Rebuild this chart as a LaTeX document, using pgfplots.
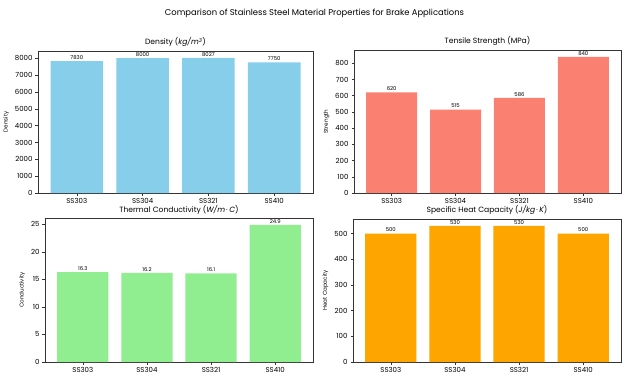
\documentclass[border=0pt]{standalone}
\usepackage{fontspec}
\setmainfont{Poppins}
\usepackage{pgfplots}
\pgfplotsset{compat=1.18}
\definecolor{skyblue}{HTML}{87CEEB}
\definecolor{salmon}{HTML}{FA8072}
\definecolor{lightgreen}{HTML}{90EE90}
\definecolor{orangec}{HTML}{FFA500}
\definecolor{spine}{HTML}{333333}
\pgfplotsset{
  panel/.style={
    scale only axis,
    ybar, bar width=0.8,
    xmin=-0.59, xmax=3.59, ymin=0,
    xtick={0,1,2,3},
    xticklabels={SS303,SS304,SS321,SS410},
    axis line style={spine, line width=0.6pt},
    tick align=outside,
    tick style={spine, line width=0.5pt},
    major tick length=2.5pt,
    xtick pos=bottom, ytick pos=left,
    /pgf/number format/assume math mode=true,
    /pgf/number format/1000 sep={},
    tick label style={font=\fontsize{7}{8}\selectfont},
    yticklabel style={xshift=0.5pt},
    title style={font=\fontsize{7.6}{8}\selectfont, yshift=-5.5pt},
    ylabel style={font=\fontsize{5.6}{6}\selectfont, yshift=-1pt},
    nodes near coords,
    every node near coord/.append style={font=\fontsize{5.3}{6}\selectfont, yshift=-2pt},
    xticklabel style={yshift=1pt},
  }
}
\begin{document}
\begin{tikzpicture}
\useasboundingbox (0pt,0pt) rectangle (629pt,389pt);
\node[font=\fontsize{8.4}{9}\selectfont] at (314.5pt,376pt) {Comparison of Stainless Steel Material Properties for Brake Applications};
% Density
\begin{axis}[panel, at={(38pt,196pt)}, anchor=south west, width=275pt, height=142pt,
  ymax=8428.35, ytick={0,1000,2000,3000,4000,5000,6000,7000,8000},
  title={Density ({\itshape kg/m\textsuperscript{3}})}, ylabel={Density},
  every node near coord/.append style={/pgf/number format/fixed, /pgf/number format/1000 sep={}}]
\addplot[fill=skyblue, draw=none] coordinates {(0,7830) (1,8000) (2,8027) (3,7750)};
\end{axis}
% Tensile
\begin{axis}[panel, at={(354pt,196pt)}, anchor=south west, width=267pt, height=143pt,
  ymax=882, ytick={0,100,200,300,400,500,600,700,800},
  title={Tensile Strength (MPa)}, ylabel={Strength}]
\addplot[fill=salmon, draw=none] coordinates {(0,620) (1,515) (2,586) (3,840)};
\end{axis}
% Conductivity
\begin{axis}[panel, at={(45pt,27pt)}, anchor=south west, width=268pt, height=144pt,
  ymax=26.145, ytick={0,5,10,15,20,25},
  title={Thermal Conductivity ({\itshape W/m\,·\,C})}, ylabel={Conductivity},
  every node near coord/.append style={/pgf/number format/fixed, /pgf/number format/precision=1}]
\addplot[fill=lightgreen, draw=none] coordinates {(0,16.3) (1,16.2) (2,16.1) (3,24.9)};
\end{axis}
% Heat capacity
\begin{axis}[panel, at={(353pt,27pt)}, anchor=south west, width=268pt, height=143pt,
  ymax=556.5, ytick={0,100,200,300,400,500},
  title={Specific Heat Capacity ({\itshape J/kg\,·\,K})}, ylabel={Heat Capacity}]
\addplot[fill=orangec, draw=none] coordinates {(0,500) (1,530) (2,530) (3,500)};
\end{axis}
\end{tikzpicture}
\end{document}
